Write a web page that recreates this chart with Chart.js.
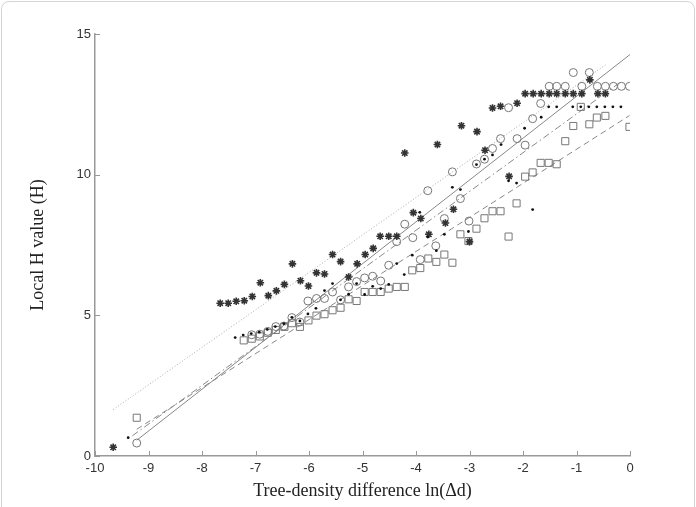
<!DOCTYPE html>
<html>
<head>
<meta charset="utf-8">
<script src="https://cdn.jsdelivr.net/npm/chart.js@4.4.1/dist/chart.umd.min.js"></script>
<style>
  html, body { margin: 0; padding: 0; background: #fff; }
  #wrap { position: relative; width: 696px; height: 507px; overflow: hidden; }
  #frame { position: absolute; left: 1px; top: 1px; width: 692px; height: 530px;
           border: 1px solid #d4d4d4; border-radius: 8px; }
  #c { position: absolute; left: 0; top: 0; }
</style>
</head>
<body>
<div id="wrap">
  <div id="frame"></div>
  <canvas id="c" width="696" height="507"></canvas>
</div>
<script>
// ticks
const xTicks = [-10, -9, -8, -7, -6, -5, -4, -3, -2, -1, 0];
const yTicks = [0, 5, 10, 15];

// asterisk series
const starX = [-9.66,-7.66,-7.51,-7.36,-7.21,-7.06,-6.91,-6.76,-6.61,-6.46,-6.31,-6.16,-6.01,-5.86,-5.71,-5.56,-5.41,-5.26,-5.10,-4.95,-4.80,-4.67,-4.51,-4.36,-4.21,-4.05,-3.91,-3.76,-3.60,-3.45,-3.30,-3.15,-3.00,-2.86,-2.71,-2.57,-2.42,-2.26,-2.11,-1.96,-1.81,-1.66,-1.51,-1.37,-1.21,-1.06,-0.90,-0.75,-0.60,-0.46];
const starY = [0.31,5.43,5.43,5.50,5.52,5.67,6.16,5.70,5.87,6.10,6.83,6.23,6.04,6.51,6.47,7.16,6.91,6.36,6.83,7.16,7.38,7.81,7.81,7.81,10.77,8.65,8.44,7.88,11.07,8.28,8.77,11.74,7.62,11.53,10.87,12.37,12.43,9.94,12.54,12.88,12.88,12.88,12.88,12.88,12.88,12.88,12.88,13.37,12.88,12.88];

// dot series
const dotX = [-9.38,-7.38,-7.23,-7.08,-6.93,-6.78,-6.63,-6.47,-6.32,-6.17,-6.02,-5.87,-5.71,-5.56,-5.41,-5.26,-5.11,-4.96,-4.81,-4.66,-4.51,-4.36,-4.22,-4.07,-3.93,-3.78,-3.62,-3.47,-3.32,-3.17,-3.02,-2.87,-2.72,-2.57,-2.41,-2.27,-2.12,-1.97,-1.82,-1.66,-1.52,-1.37,-1.07,-0.92,-0.77,-0.62,-0.47,-0.32,-0.17];
const dotY = [0.65,4.21,4.30,4.35,4.40,4.50,4.60,4.70,4.93,4.80,5.05,5.25,5.88,6.13,5.55,5.75,6.13,5.74,6.03,5.95,6.10,6.84,6.45,7.14,8.66,7.78,7.30,7.88,9.55,9.47,7.98,10.36,10.55,10.70,11.07,9.78,9.70,11.65,8.76,12.04,12.41,12.41,12.41,12.41,12.41,12.41,12.41,12.41,12.41];

// circle series
const circX = [-9.22,-7.07,-6.92,-6.77,-6.62,-6.47,-6.32,-6.17,-6.02,-5.86,-5.71,-5.56,-5.41,-5.26,-5.11,-4.96,-4.81,-4.66,-4.51,-4.36,-4.21,-4.06,-3.92,-3.78,-3.63,-3.47,-3.32,-3.17,-3.01,-2.87,-2.72,-2.57,-2.42,-2.27,-2.11,-1.96,-1.82,-1.67,-1.51,-1.37,-1.21,-1.06,-0.90,-0.76,-0.61,-0.46,-0.31,-0.16,-0.01];
const circY = [0.46,4.31,4.33,4.43,4.60,4.62,4.92,4.76,5.51,5.60,5.60,5.83,5.55,6.01,6.20,6.33,6.39,6.22,6.78,7.62,8.24,7.76,6.98,9.43,7.47,8.44,10.10,9.15,8.35,10.38,10.55,10.93,11.28,12.38,11.28,11.05,11.99,12.53,13.14,13.14,13.14,13.63,13.14,13.63,13.14,13.14,13.14,13.14,13.14];

// square series
const sqX = [-9.22,-7.22,-7.07,-6.92,-6.77,-6.62,-6.46,-6.32,-6.17,-6.01,-5.86,-5.71,-5.56,-5.41,-5.26,-5.11,-4.96,-4.81,-4.66,-4.51,-4.36,-4.21,-4.07,-3.92,-3.77,-3.62,-3.47,-3.32,-3.17,-3.02,-2.87,-2.72,-2.57,-2.42,-2.27,-2.12,-1.96,-1.82,-1.67,-1.52,-1.37,-1.21,-1.06,-0.92,-0.76,-0.62,-0.46,-0.01];
const sqY = [1.36,4.11,4.17,4.25,4.38,4.48,4.59,4.72,4.59,4.82,4.99,5.04,5.18,5.27,5.57,5.51,5.83,5.83,5.83,5.95,6.01,6.01,6.60,6.68,7.02,6.90,7.16,6.87,7.88,7.64,8.08,8.45,8.70,8.70,7.80,8.98,9.93,10.08,10.42,10.42,10.37,11.19,11.73,12.41,11.79,12.03,12.09,11.70];

// fitted lines (end points)
const starFitX = [-9.66, -0.46], starFitY = [1.65, 13.90];
const dotFitX  = [-9.30, -0.17], dotFitY  = [0.72, 13.30];
const circFitX = [-9.22, 0.00],  circFitY = [0.56, 14.27];
const sqFitX   = [-9.22, -0.01], sqFitY   = [0.95, 12.10];

const pts = (xs, ys) => xs.map((x, i) => ({ x: x, y: ys[i] }));

// inward tick marks like the original plot
const inwardTicks = {
    id: 'inwardTicks',
    afterDraw(chart) {
        const { ctx, chartArea, scales } = chart;
        ctx.save();
        ctx.strokeStyle = '#999';
        ctx.lineWidth = 1;
        ctx.beginPath();
        xTicks.forEach(v => {
            const px = Math.round(scales.x.getPixelForValue(v)) + 0.5;
            ctx.moveTo(px, chartArea.bottom);
            ctx.lineTo(px, chartArea.bottom - 5);
        });
        yTicks.forEach(v => {
            const py = Math.round(scales.y.getPixelForValue(v)) + 0.5;
            ctx.moveTo(chartArea.left, py);
            ctx.lineTo(chartArea.left + 5, py);
        });
        ctx.stroke();
        ctx.restore();
    }
};

const lineDs = (data, dash, color) => ({
    type: 'line', data: data, showLine: true, pointRadius: 0,
    borderColor: color, borderWidth: 1, borderDash: dash, fill: false
});

new Chart(document.getElementById('c'), {
    type: 'scatter',
    data: {
        datasets: [
            { data: pts(dotX, dotY), pointStyle: 'circle', pointRadius: 1.4,
              backgroundColor: '#111', borderColor: '#111', borderWidth: 0 },
            { data: pts(starX, starY), pointStyle: 'star', pointRadius: 3.8,
              borderColor: '#333', borderWidth: 1.6, backgroundColor: '#333' },
            { data: pts(circX, circY), pointStyle: 'circle', pointRadius: 4,
              borderColor: '#777', borderWidth: 1, backgroundColor: 'rgba(255,255,255,0)' },
            { data: pts(sqX, sqY), pointStyle: 'rect', pointRadius: 5,
              borderColor: '#777', borderWidth: 1, backgroundColor: 'rgba(255,255,255,0)' },
            lineDs(pts(starFitX, starFitY), [1, 2], '#aaa'),
            lineDs(pts(dotFitX, dotFitY), [7, 3, 1.5, 3], '#888'),
            lineDs(pts(circFitX, circFitY), [], '#888'),
            lineDs(pts(sqFitX, sqFitY), [6, 4], '#888')
        ]
    },
    options: {
        responsive: false,
        animation: false,
        events: [],
        layout: { padding: { left: 0, right: 66, top: 34, bottom: 0 } },
        plugins: { legend: { display: false }, tooltip: { enabled: false } },
        scales: {
            x: {
                type: 'linear', min: -10, max: 0,
                afterBuildTicks: s => { s.ticks = xTicks.map(v => ({ value: v })); },
                afterFit: s => { s.height = 51; },
                grid: { display: true, drawOnChartArea: false, drawTicks: false },
                border: { display: true, color: '#999', width: 1.5 },
                ticks: { padding: 5, color: '#333', font: { family: 'Liberation Sans', size: 13 } },
                title: { display: true, text: 'Tree-density difference ln(Δd)', color: '#222',
                         padding: { top: 0, bottom: 5 },
                         font: { family: 'Liberation Serif', size: 18 } }
            },
            y: {
                type: 'linear', min: 0, max: 15,
                afterBuildTicks: s => { s.ticks = yTicks.map(v => ({ value: v })); },
                afterFit: s => { s.width = 95; },
                grid: { display: true, drawOnChartArea: false, drawTicks: false },
                border: { display: true, color: '#999', width: 1.5 },
                ticks: { padding: 4, color: '#333', font: { family: 'Liberation Sans', size: 13 } },
                title: { display: true, text: 'Local H value (H)', color: '#222',
                         padding: { top: 27, bottom: 0 },
                         font: { family: 'Liberation Serif', size: 18 } }
            }
        }
    },
    plugins: [inwardTicks]
});
</script>
</body>
</html>
